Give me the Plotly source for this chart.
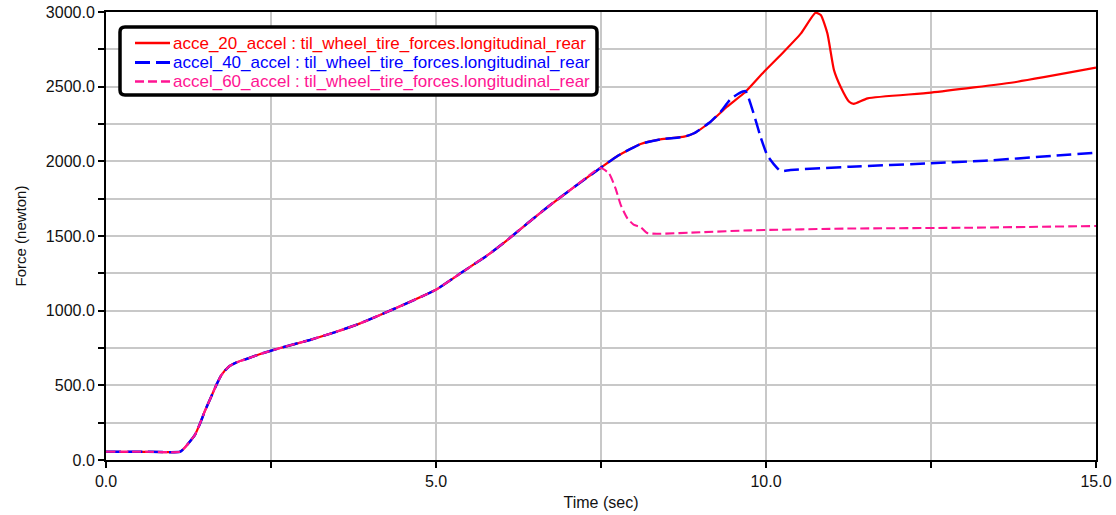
import plotly.graph_objects as go

# Shared response before the three runs separate (time in sec, force in N)
t_base = [0.0, 0.60, 1.12, 1.17, 1.25, 1.35, 1.43, 1.50, 1.60, 1.68, 1.75, 1.86, 1.98,
          2.15, 2.34, 2.60, 3.09, 3.50, 3.85, 4.36, 4.99, 5.37, 5.77, 6.08, 6.40,
          6.73, 7.10, 7.49]
f_base = [55, 55, 55, 72, 112, 170, 250, 330, 430, 510, 570, 625, 654,
          680, 710, 745, 804, 860, 915, 1011, 1138, 1250, 1368, 1473, 1590,
          1707, 1830, 1955]

# accel_20 and accel_40 stay together a little longer
t_mid = [7.75, 8.10, 8.40, 8.76, 8.91, 9.16]
f_mid = [2036, 2116, 2147, 2165, 2188, 2265]

# acce_20_accel tail
t_20 = [9.41, 9.69, 9.97, 10.27, 10.53, 10.75, 10.83, 10.93, 11.03, 11.13,
        11.26, 11.33, 11.54, 12.50, 13.81, 15.0]
f_20 = [2366, 2466, 2600, 2734, 2857, 2995, 2980, 2857, 2611, 2500,
        2399, 2385, 2422, 2460, 2533, 2627]

# accel_40_accel tail
t_40 = [9.31, 9.46, 9.59, 9.69, 9.77, 9.84, 9.92, 10.02, 10.12, 10.22,
        10.37, 11.28, 12.50, 13.31, 14.32, 15.0]
f_40 = [2330, 2415, 2455, 2470, 2380, 2280, 2160, 2040, 1980, 1935,
        1942, 1964, 1987, 2004, 2036, 2058]

# accel_60_accel tail
t_60 = [7.62, 7.72, 7.80, 7.90, 8.00, 8.10, 8.20, 8.35, 9.00, 9.77,
        11.28, 13.00, 15.0]
f_60 = [1920, 1819, 1707, 1618, 1574, 1560, 1520, 1515, 1525, 1538,
        1550, 1555, 1567]

names = ["acce_20_accel : til_wheel_tire_forces.longitudinal_rear",
         "accel_40_accel : til_wheel_tire_forces.longitudinal_rear",
         "accel_60_accel : til_wheel_tire_forces.longitudinal_rear"]
colors = ["#ff0000", "#0000ff", "#ff1493"]
dashes = ["solid", "15px,6px", "9px,4px"]
widths = [2.2, 2.5, 2.1]

x_tick_vals = [0, 5, 10, 15]
y_tick_vals = [0, 500, 1000, 1500, 2000, 2500, 3000]

series_t = [t_base + t_mid + t_20, t_base + t_mid + t_40, t_base + t_60]
series_f = [f_base + f_mid + f_20, f_base + f_mid + f_40, f_base + f_60]

FONT = "Liberation Sans, Arial, sans-serif"

fig = go.Figure()
for t, f, name, c, d, w in zip(series_t, series_f, names, colors, dashes, widths):
    fig.add_trace(go.Scatter(x=t, y=f, mode="lines", name=name,
                             line=dict(color=c, dash=d, width=w,
                                       shape="spline", smoothing=0.5),
                             showlegend=False))

W, H = 1116, 515
L, R, T, B = 106, 20, 12, 55
pw, ph = W - L - R, H - T - B


def px_x(p):
    return (p - L) / pw


def px_y(p):
    return (H - B - p) / ph


# Legend frame with rounded corners
x0, x1, y0, y1, r = 120, 597, 27, 95, 5
path = (f"M {px_x(x0 + r)},{px_y(y0)} L {px_x(x1 - r)},{px_y(y0)} "
        f"Q {px_x(x1)},{px_y(y0)} {px_x(x1)},{px_y(y0 + r)} "
        f"L {px_x(x1)},{px_y(y1 - r)} Q {px_x(x1)},{px_y(y1)} {px_x(x1 - r)},{px_y(y1)} "
        f"L {px_x(x0 + r)},{px_y(y1)} Q {px_x(x0)},{px_y(y1)} {px_x(x0)},{px_y(y1 - r)} "
        f"L {px_x(x0)},{px_y(y0 + r)} Q {px_x(x0)},{px_y(y0)} {px_x(x0 + r)},{px_y(y0)} Z")
shapes = [dict(type="path", xref="paper", yref="paper", path=path,
               fillcolor="white", line=dict(color="black", width=3.5), layer="above")]
annotations = []
rows = [43, 62.5, 81.5]
for row, name, c, d, w in zip(rows, names, colors, dashes, widths):
    shapes.append(dict(type="line", xref="paper", yref="paper",
                       x0=px_x(135), x1=px_x(170), y0=px_y(row), y1=px_y(row),
                       line=dict(color=c, dash=d, width=w + 0.3), layer="above"))
    annotations.append(dict(xref="paper", yref="paper", x=px_x(171), y=px_y(row),
                            xanchor="left", yanchor="middle", text=name, showarrow=False,
                            font=dict(family=FONT, size=17, color=c)))

fig.update_layout(
    width=W, height=H,
    margin=dict(l=L, r=R, t=T, b=B, autoexpand=False),
    paper_bgcolor="white", plot_bgcolor="white",
    font=dict(family=FONT, size=16, color="#111111"),
    shapes=shapes, annotations=annotations,
    showlegend=False,
)
fig.update_xaxes(
    range=[0, 15], tickvals=x_tick_vals, tickformat=".1f",
    ticks="outside", ticklen=6, tickcolor="black", tickwidth=1.5,
    minor=dict(dtick=2.5, tick0=0, ticks="outside", ticklen=6, tickcolor="black",
               showgrid=True, gridcolor="#c8c8c8", gridwidth=1.5),
    showgrid=True, gridcolor="#c8c8c8", gridwidth=1.5,
    showline=True, linecolor="black", linewidth=2, mirror=True,
    zeroline=False,
    title=dict(text="Time (sec)", font=dict(size=16), standoff=8),
)
fig.update_yaxes(
    range=[0, 3000], tickvals=y_tick_vals, tickformat=".1f",
    ticks="outside", ticklen=6, tickcolor="black", tickwidth=1.5,
    minor=dict(dtick=250, tick0=0, ticks="outside", ticklen=6, tickcolor="black",
               showgrid=True, gridcolor="#c8c8c8", gridwidth=1.5),
    showgrid=True, gridcolor="#c8c8c8", gridwidth=1.5,
    showline=True, linecolor="black", linewidth=2, mirror=True,
    zeroline=False,
    title=dict(text="Force (newton)", font=dict(size=15), standoff=16),
)

fig.write_html("out.html")
